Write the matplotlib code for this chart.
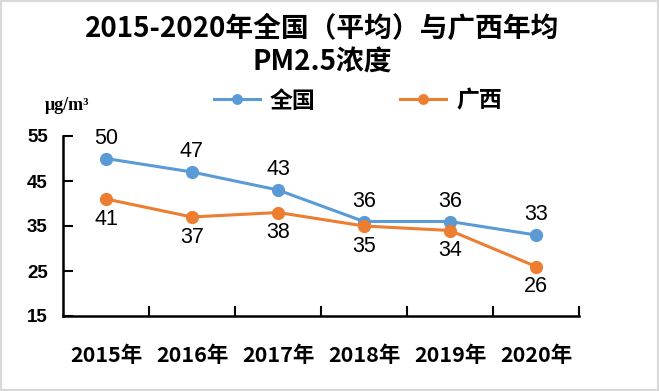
import matplotlib
matplotlib.use("Agg")
import matplotlib.pyplot as plt
from matplotlib.patches import Rectangle

years = ['2015年', '2016年', '2017年', '2018年', '2019年', '2020年']
national = [50, 47, 43, 36, 36, 33]
guangxi = [41, 37, 38, 35, 34, 26]
yticks = [15, 25, 35, 45, 55]

cjk = ['Noto Sans CJK SC', 'DejaVu Sans']
blue = '#5B9BD5'
orange = '#ED7D31'

fig = plt.figure(figsize=(6.59, 3.91), dpi=100)
fig.patches.append(Rectangle((0, 0), 1, 1, transform=fig.transFigure,
                             fill=False, edgecolor='#D9D9D9', linewidth=3))
ax = fig.add_axes([63 / 659, 1 - 316 / 391, 516 / 659, 180 / 391])

x = list(range(len(years)))
ax.plot(x, national, color=blue, lw=2.2, marker='o', ms=8.5, label='全国')
ax.plot(x, guangxi, color=orange, lw=2.2, marker='o', ms=8.5, label='广西')

for i in x:
    ax.annotate(str(national[i]), (i, national[i]), xytext=(0, 7),
                textcoords='offset points', ha='center', va='bottom',
                fontsize=15.5, family='Liberation Sans')
    ax.annotate(str(guangxi[i]), (i, guangxi[i]), xytext=(0, -7),
                textcoords='offset points', ha='center', va='top',
                fontsize=15.5, family='Liberation Sans')

ax.set_xlim(-0.5, 5.5)
ax.set_ylim(15, 55)
ax.set_yticks(yticks)
ax.set_yticklabels([str(v) for v in yticks], family='Liberation Sans',
                   fontweight='bold', fontsize=13.5)
ax.set_xticks([i + 0.5 for i in x], minor=False)
ax.set_xticklabels([])
ax.set_xticks(x, minor=True)
ax.set_xticklabels(years, minor=True, family=cjk, fontweight='bold', fontsize=15.5)
ax.tick_params(axis='x', which='major', direction='in', length=7, width=1.5)
ax.tick_params(axis='x', which='minor', length=0, pad=21)
ax.tick_params(axis='y', direction='in', length=7, width=1.5, pad=11)
for s in ['top', 'right']:
    ax.spines[s].set_visible(False)
for s in ['left', 'bottom']:
    ax.spines[s].set_linewidth(1.8)

fig.text(322 / 659, 1 - 29 / 391, '2015-2020年全国（平均）与广西年均',
         ha='center', va='center', family=cjk, fontweight='bold', fontsize=20)
fig.text(322 / 659, 1 - 63 / 391, 'PM2.5浓度',
         ha='center', va='center', family=cjk, fontweight='bold', fontsize=20)
fig.text(67 / 659, 1 - 106 / 391, 'μg/m³', ha='center', va='center',
         family='Liberation Serif', fontweight='bold', fontsize=13)

fig.legend(loc='center', bbox_to_anchor=(358 / 659, 1 - 101 / 391), ncol=2,
           frameon=False, prop={'family': cjk, 'weight': 'bold', 'size': 16.5},
           columnspacing=3.7, handlelength=2.0, handletextpad=0.45,
           markerscale=0.8)

fig.savefig('out.png', dpi=100)
